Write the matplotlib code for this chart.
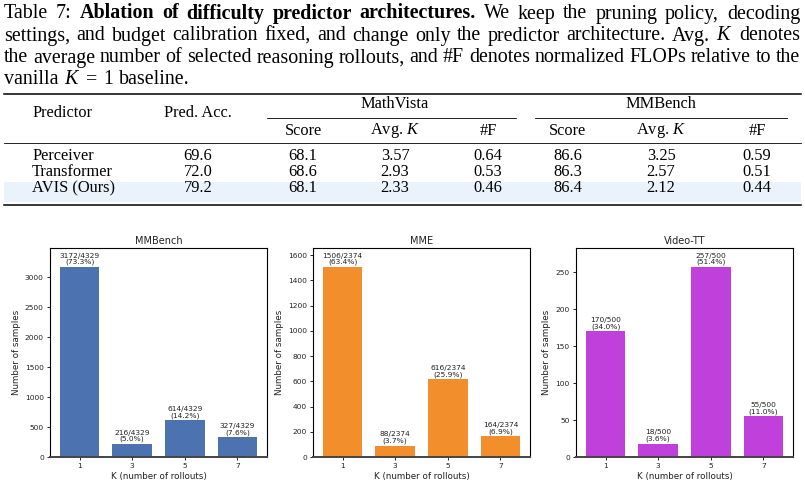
import matplotlib
matplotlib.use("Agg")
import matplotlib.pyplot as plt
from matplotlib.lines import Line2D
from matplotlib.patches import Rectangle

# ---------------- data ----------------
predictors = ["Perceiver", "Transformer", "AVIS (Ours)"]
pred_acc = [69.6, 72.0, 79.2]
mathvista_score = [68.1, 68.6, 68.1]
mathvista_avgk = [3.57, 2.93, 2.33]
mathvista_flops = [0.64, 0.53, 0.46]
mmbench_score = [86.6, 86.3, 86.4]
mmbench_avgk = [3.25, 2.57, 2.12]
mmbench_flops = [0.59, 0.51, 0.44]

k_values = [1, 3, 5, 7]
mmbench_counts = [3172, 216, 614, 327]
mme_counts = [1506, 88, 616, 164]
videott_counts = [170, 18, 257, 55]
chart_titles = ["MMBench", "MME", "Video-TT"]
chart_colors = ["#4c72b0", "#f28e2b", "#c040dc"]

W, H = 805, 488
plt.rcParams["mathtext.fontset"] = "custom"
plt.rcParams["mathtext.rm"] = "Liberation Serif"
plt.rcParams["mathtext.it"] = "Liberation Serif:italic"
plt.rcParams["mathtext.bf"] = "Liberation Serif:bold"

fig = plt.figure(figsize=(W / 100, H / 100), dpi=100)
renderer = fig.canvas.get_renderer()

def fx(x):
    return x / W

def fy(y):
    return 1 - y / H

SERIF = "Liberation Serif"
tab_fs = 11.8

# ---------------- caption (justified) ----------------
caption_lines = [
    [("Table", "n"), ("7:", "n"), ("Ablation", "b"), ("of", "b"), ("difficulty", "b"),
     ("predictor", "b"), ("architectures.", "b"), ("We", "n"), ("keep", "n"), ("the", "n"),
     ("pruning", "n"), ("policy,", "n"), ("decoding", "n")],
    [(w, "n") for w in "settings, and budget calibration fixed, and change only the predictor architecture. Avg.".split()]
    + [("$K$", "n"), ("denotes", "n")],
    [(w, "n") for w in "the average number of selected reasoning rollouts, and #F denotes normalized FLOPs relative to the".split()],
    [("vanilla", "n"), ("$K$", "n"), ("=", "n"), ("1", "n"), ("baseline.", "n")],
]
baselines = [18.5, 40.5, 62.5, 84.5]
x0, x1 = 4, 800

def measure(tokens, fs):
    ts = []
    for s, st in tokens:
        t = fig.text(0, 0, s, fontsize=fs, family=SERIF,
                     weight="bold" if st == "b" else "normal", ha="left", va="baseline")
        ts.append(t)
    ws = [t.get_window_extent(renderer).width for t in ts]
    return ts, ws

# choose the caption size so that the longest line fits naturally
probe_fs = 12.0
ts, ws = measure(caption_lines[2], probe_fs)
nat = sum(ws) + (len(ws) - 1) * probe_fs * 100 / 72 * 0.25
for t in ts:
    t.remove()
cap_fs = probe_fs * (x1 - x0 + 6) / nat
space = cap_fs * 100 / 72 * 0.28

for li, (tokens, yb) in enumerate(zip(caption_lines, baselines)):
    texts, widths = measure(tokens, cap_fs)
    if li < len(caption_lines) - 1:
        gap = (x1 - x0 - sum(widths)) / (len(texts) - 1)
    else:
        gap = space
    x = x0
    for t, w in zip(texts, widths):
        t.set_position((fx(x), fy(yb)))
        x += w + gap

# ---------------- table ----------------
def hline(y, xa, xb, lw):
    fig.add_artist(Line2D([fx(xa), fx(xb)], [fy(y), fy(y)], color="black", lw=lw,
                          transform=fig.transFigure))

fig.add_artist(Rectangle((fx(4), fy(202)), fx(801) - fx(4), fy(181.5) - fy(202),
                         transform=fig.transFigure, color="#eaf2fc", lw=0, zorder=0))
hline(93.5, 4, 801, 1.1)
hline(118, 267, 516, 0.6)
hline(118, 535, 787, 0.6)
hline(143, 4, 801, 0.6)
hline(204.5, 4, 801, 1.1)

def ttext(x, y, s, ha="center"):
    fig.text(fx(x), fy(y), s, fontsize=tab_fs, family=SERIF, ha=ha, va="center")

ttext(32, 113, "Predictor", ha="left")
ttext(198, 113, "Pred. Acc.")
ttext(395, 104, "MathVista")
ttext(661, 104, "MMBench")
sub_x = [303, 395, 488, 568, 661, 757]
for x, s in zip(sub_x, ["Score", "Avg. $K$", "#F", "Score", "Avg. $K$", "#F"]):
    ttext(x, 131, s)

row_y = [156.5, 172.5, 188.5]
for i, y in enumerate(row_y):
    ttext(32, y, predictors[i], ha="left")
    ttext(198, y, f"{pred_acc[i]:.1f}")
    vals = [f"{mathvista_score[i]:.1f}", f"{mathvista_avgk[i]:.2f}", f"{mathvista_flops[i]:.2f}",
            f"{mmbench_score[i]:.1f}", f"{mmbench_avgk[i]:.2f}", f"{mmbench_flops[i]:.2f}"]
    for x, s in zip(sub_x, vals):
        ttext(x, y, s)

# ---------------- bar charts ----------------
all_counts = [mmbench_counts, mme_counts, videott_counts]
ax_lefts = [50, 313, 576]
ax_w = 217
ax_top, ax_bot = 248, 457
for counts, title, color, left in zip(all_counts, chart_titles, chart_colors, ax_lefts):
    ax = fig.add_axes([fx(left), fy(ax_bot), ax_w / W, (ax_bot - ax_top) / H])
    total = sum(counts)
    bars = ax.bar(k_values, counts, width=1.5, color=color)
    for b, c in zip(bars, counts):
        ax.annotate(f"{c}/{total}\n({100 * c / total:.1f}%)",
                    (b.get_x() + b.get_width() / 2, c), xytext=(0, 1.2),
                    textcoords="offset points", ha="center", va="bottom",
                    fontsize=5.4, linespacing=1.05, color="#222222")
    ax.set_ylim(0, max(counts) * 1.1)
    ax.set_xticks(k_values)
    ax.set_title(title, fontsize=7.0, pad=3, color="#222222")
    ax.set_xlabel("K (number of rollouts)", fontsize=6.3, labelpad=2, color="#222222")
    ax.set_ylabel("Number of samples", fontsize=6.3, labelpad=3, color="#222222")
    ax.tick_params(labelsize=5.4, length=2.5, width=0.6, pad=2, labelcolor="#222222")
    for sp in ax.spines.values():
        sp.set_linewidth(0.8)
    ax.spines["bottom"].set_color("#444444")
    ax.spines["bottom"].set_linewidth(1.4)

fig.savefig("out.png", dpi=100)
